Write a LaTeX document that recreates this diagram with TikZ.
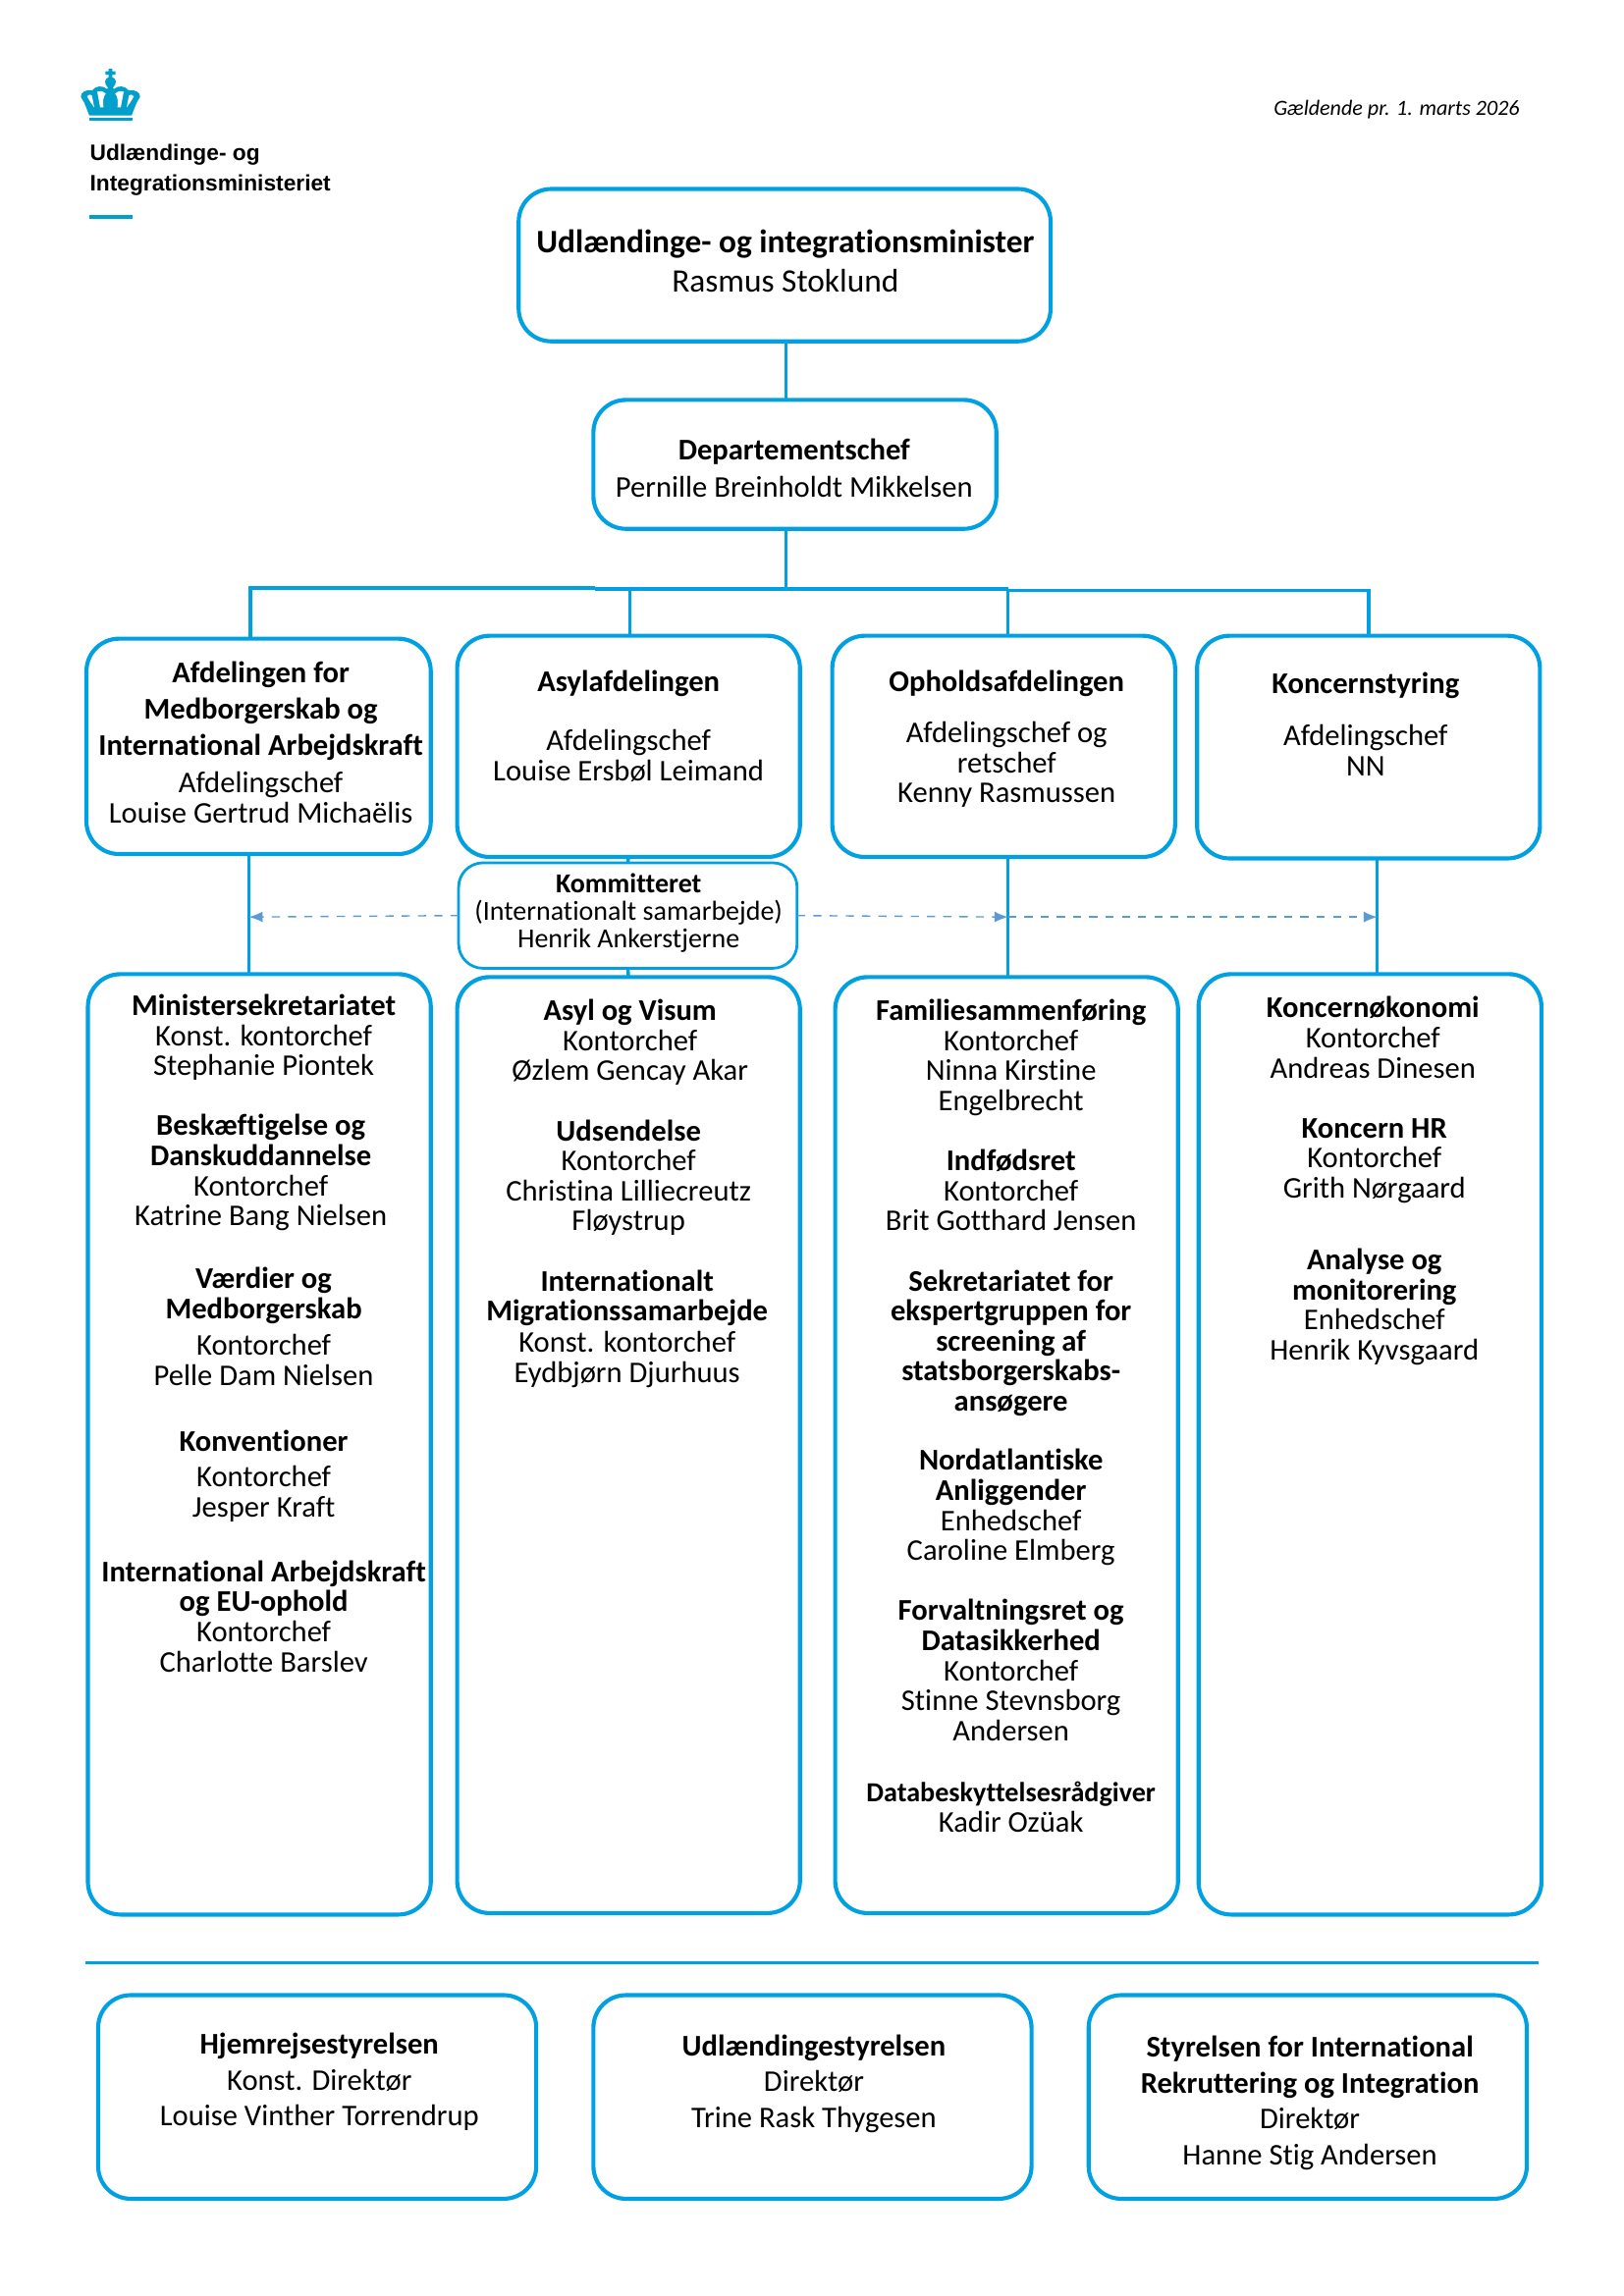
\documentclass[tikz,border=0pt]{standalone}
\usepackage{fontspec}
\usetikzlibrary{arrows.meta}
\setmainfont[Ligatures=NoCommon]{Carlito}
\newfontfamily\logofont{Liberation Sans}
\definecolor{orgblue}{HTML}{00A0E3}
\definecolor{crownblue}{HTML}{009FCC}
\definecolor{dashblue}{HTML}{5B9BD5}
\newcommand{\unitpt}{0.5412pt}

\begin{document}
\begin{tikzpicture}[
    x=0.5412pt, y=-0.5412pt,
    panel/.style={                           % Outlined boxes
        rectangle,
        rounded corners=12pt,
        line width=1.5pt,
        draw=orgblue,
        inner sep=0pt,
        outer sep=0pt
    },
    smallpanel/.style={panel, rounded corners=9pt, line width=1pt},
    link/.style={line width=1.25pt, draw=orgblue},
    staff/.style={draw=dashblue, dashed, line width=0.5pt, -{Latex[length=5pt,width=4pt]}},
    txt/.style={                             % Text block, anchored at the top of its first line
        anchor=north,
        align=center,
        inner sep=0pt,
        yshift=-1.35pt,
        font=\fontsize{11.1}{11.1}\selectfont,
        execute at begin node=\strut
    },
    smalltxt/.style={txt, font=\fontsize{10.15}{10.2}\selectfont},
    headtxt/.style={txt, font=\fontsize{12.1}{14.6}\selectfont}
]
\useasboundingbox (0,0) rectangle (1108.3,1567.4);

% Logo
\begin{scope}[shift={(40.2,33.5)}, scale=0.2234]
    \fill[crownblue] (93,203) -- (78,165) -- (67,146) .. controls (66,132) and (84,122) .. (102,126)
        .. controls (112,112) and (132,110) .. (147,122) -- (150,118) .. controls (136,104) and (140,90) .. (152,86)
        -- (152,78) -- (142,78) -- (142,68) -- (152,68) -- (152,60) -- (163,60) -- (163,68) -- (173,68) -- (173,78)
        -- (163,78) -- (163,86) .. controls (175,90) and (179,104) .. (165,118) -- (168,122)
        .. controls (182,110) and (202,112) .. (213,126) .. controls (231,122) and (249,132) .. (248,146)
        -- (237,165) -- (222,203) -- cycle;
    \fill[white] (86,144) .. controls (92,138) and (98,138) .. (101,142) -- (108,178) .. controls (100,168) and (92,156) .. (86,144) -- cycle;
    \fill[white] (117,130) .. controls (124,126) and (134,128) .. (143,136) .. controls (135,146) and (134,160) .. (136,178) -- (126,178) -- cycle;
    \fill[white] (229,144) .. controls (223,138) and (217,138) .. (214,142) -- (207,178) .. controls (215,168) and (223,156) .. (229,144) -- cycle;
    \fill[white] (198,130) .. controls (191,126) and (181,128) .. (172,136) .. controls (180,146) and (181,160) .. (179,178) -- (189,178) -- cycle;
    \fill[crownblue] (93,209) rectangle (225,218);
\end{scope}
\node[anchor=north west, inner sep=0pt, align=left, font=\logofont\bfseries\fontsize{8.25}{11.3}\selectfont] (logotxt) at (61,98) {Udlændinge- og\\Integrationsministeriet};
\fill[crownblue] (61,147) rectangle (90.5,149.5);
\node[anchor=east, inner sep=0pt, font=\itshape\fontsize{8}{9}\selectfont] (dato) at (1037.5,74.5) {Gældende pr. 1. marts 2026};

% Top of the hierarchy
\node[panel, minimum width=363*\unitpt, minimum height=104*\unitpt] (minister) at (535.5,181) {};
\node[panel, minimum width=275*\unitpt, minimum height=88*\unitpt] (depchef) at (542.5,317) {};
\node[headtxt] (ministertxt) at (536,154) {\textbf{Udlændinge- og integrationsminister}\\Rasmus Stoklund};
\node[txt, font=\fontsize{11.1}{13.5}\selectfont] (depchettxt) at (542,297) {\textbf{Departementschef}\\Pernille Breinholdt Mikkelsen};

% Departments
\node[panel, minimum width=235*\unitpt, minimum height=147*\unitpt] (afdA) at (176.5,509.5) {};
\node[panel, minimum width=234*\unitpt, minimum height=151*\unitpt] (afdB) at (429,509.5) {};
\node[panel, minimum width=234*\unitpt, minimum height=151*\unitpt] (afdC) at (685,509.5) {};
\node[panel, minimum width=234*\unitpt, minimum height=152*\unitpt] (afdD) at (934,510) {};
\node[smallpanel, minimum width=231*\unitpt, minimum height=72*\unitpt] (kommit) at (428.5,625) {};

\node[txt, font=\fontsize{11.1}{13.4}\selectfont] (afdAtxt) at (178,449) {\textbf{Afdelingen for}\\\textbf{Medborgerskab og}\\\textbf{International Arbejdskraft}};
\node[txt] (afdAtxtb) at (178,524) {Afdelingschef\\Louise Gertrud Michaëlis};
\node[txt] (afdBtxt) at (429,454.5) {\textbf{Asylafdelingen}\\[11pt]Afdelingschef\\Louise Ersbøl Leimand};
\node[txt] (afdCtxt) at (687,454.5) {\textbf{Opholdsafdelingen}\\[8pt]Afdelingschef og\\retschef\\Kenny Rasmussen};
\node[txt] (afdDtxt) at (932,456.5) {\textbf{Koncernstyring}\\[8pt]Afdelingschef\\NN};
\node[smalltxt] (kommittxt) at (429,593.5) {\textbf{Kommitteret}\\(Internationalt samarbejde)\\Henrik Ankerstjerne};

% Offices
\node[panel, minimum width=234*\unitpt, minimum height=642*\unitpt] (kontA) at (177,986) {};
\node[panel, minimum width=234*\unitpt, minimum height=639*\unitpt] (kontB) at (429,986.5) {};
\node[panel, minimum width=234*\unitpt, minimum height=639*\unitpt] (kontC) at (687,986.5) {};
\node[panel, minimum width=234*\unitpt, minimum height=642*\unitpt] (kontD) at (935,986) {};

\node[txt] (kontA1) at (180,676) {\textbf{Ministersekretariatet}\\Konst. kontorchef\\Stephanie Piontek};
\node[txt] (kontA2) at (178,758) {\textbf{Beskæftigelse og}\\\textbf{Danskuddannelse}\\Kontorchef\\Katrine Bang Nielsen};
\node[txt] (kontA3) at (180,862.5) {\textbf{Værdier og}\\\textbf{Medborgerskab}\\[2.4pt]Kontorchef\\Pelle Dam Nielsen};
\node[txt] (kontA4) at (180,973.5) {\textbf{Konventioner}\\[2pt]Kontorchef\\Jesper Kraft};
\node[txt] (kontA5) at (180,1062.5) {\textbf{International Arbejdskraft}\\\textbf{og EU-ophold}\\Kontorchef\\Charlotte Barslev};

\node[txt] (kontB1) at (430,679.5) {\textbf{Asyl og Visum}\\Kontorchef\\Øzlem Gencay Akar};
\node[txt] (kontB2) at (429,761.5) {\textbf{Udsendelse}\\Kontorchef\\Christina Lilliecreutz\\Fløystrup};
\node[txt] (kontB3) at (428,864) {\textbf{Internationalt}\\\textbf{Migrationssamarbejde}\\[0.6pt]Konst. kontorchef\\Eydbjørn Djurhuus};

\node[txt] (kontC1) at (690,679.5) {\textbf{Familiesammenføring}\\Kontorchef\\Ninna Kirstine\\Engelbrecht};
\node[txt] (kontC2) at (690,782) {\textbf{Indfødsret}\\Kontorchef\\Brit Gotthard Jensen};
\node[txt] (kontC3) at (690,864) {\textbf{Sekretariatet for}\\\textbf{ekspertgruppen for}\\\textbf{screening af}\\\textbf{statsborgerskabs-}\\\textbf{ansøgere}};
\node[txt] (kontC4) at (690,986.5) {\textbf{Nordatlantiske}\\\textbf{Anliggender}\\Enhedschef\\Caroline Elmberg};
\node[txt] (kontC5) at (690,1089) {\textbf{Forvaltningsret og}\\\textbf{Datasikkerhed}\\Kontorchef\\Stinne Stevnsborg\\Andersen};
\node[txt] (kontC6) at (690,1213.5) {{\fontsize{10.2}{11.1}\selectfont\textbf{Databeskyttelsesrådgiver}}\\Kadir Ozüak};

\node[txt] (kontD1) at (937,677.5) {\textbf{Koncernøkonomi}\\Kontorchef\\Andreas Dinesen};
\node[txt] (kontD2) at (938,760.5) {\textbf{Koncern HR}\\Kontorchef\\Grith Nørgaard};
\node[txt] (kontD3) at (938,849.5) {\textbf{Analyse og}\\\textbf{monitorering}\\Enhedschef\\Henrik Kyvsgaard};

% Agencies
\node[panel, minimum width=299*\unitpt, minimum height=139*\unitpt] (styrA) at (216.5,1431.5) {};
\node[panel, minimum width=299*\unitpt, minimum height=139*\unitpt] (styrB) at (554.5,1431.5) {};
\node[panel, minimum width=299*\unitpt, minimum height=139*\unitpt] (styrC) at (892.5,1431.5) {};
\node[txt, font=\fontsize{11.1}{13.3}\selectfont] (styrAtxt) at (218,1385) {\textbf{Hjemrejsestyrelsen}\\Konst. Direktør\\Louise Vinther Torrendrup};
\node[txt, font=\fontsize{11.1}{13.3}\selectfont] (styrBtxt) at (555.5,1386) {\textbf{Udlændingestyrelsen}\\Direktør\\Trine Rask Thygesen};
\node[txt, font=\fontsize{11.1}{13.3}\selectfont] (styrCtxt) at (894,1387) {\textbf{Styrelsen for International}\\\textbf{Rekruttering og Integration}\\Direktør\\Hanne Stig Andersen};

\coordinate (ruleA) at (58,1340);
\coordinate (ruleB) at (1050,1340);
\draw[link] (ruleA) -- (ruleB);

% Connectors
\coordinate (bus) at (536.5,402);
\draw[link] (minister.south -| bus) -- (depchef.north -| bus);
\draw[link] (depchef.south -| bus) -- (bus);
\draw[link] (406,401.3) -- (171,401.3) -- (171,436);
\draw[link] (406,402) -- (688,402);
\draw[link] (688,403) -- (934,403) -- (934,434);
\draw[link] (430,402) -- (430,434);
\draw[link] (688,402) -- (688,434);
\coordinate (dropA) at (170,626);
\coordinate (dropC) at (688,626);
\coordinate (dropD) at (940,626);
\draw[link] (afdA.south -| dropA) -- (kontA.north -| dropA);
\draw[link] (afdC.south -| dropC) -- (kontC.north -| dropC);
\draw[link] (afdD.south -| dropD) -- (kontD.north -| dropD);
\draw[link] (afdB.south) -- (kommit.north);
\draw[link] (kommit.south) -- (kontB.north);

% Staff lines from the commissioner
\draw[staff] (kommit.west) -- (dropA);
\draw[staff] (kommit.east) -- (dropC);
\draw[staff] (dropC) -- (dropD);

\end{tikzpicture}
\end{document}
